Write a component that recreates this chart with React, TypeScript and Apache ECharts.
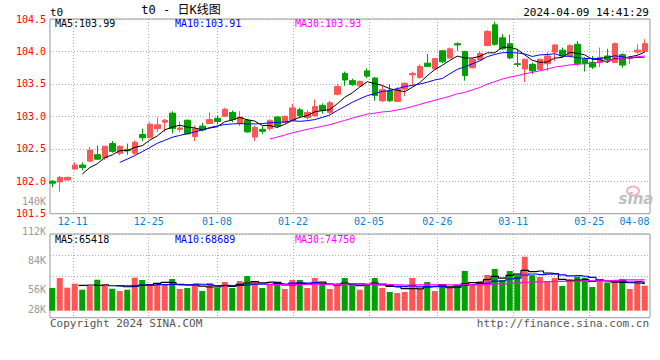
import React, { useEffect, useRef } from "react";
import * as echarts from "echarts";

// ---- data ----
const dates = [
  "2023-12-06","2023-12-07","2023-12-08","2023-12-11","2023-12-12","2023-12-13","2023-12-14","2023-12-15","2023-12-18","2023-12-19",
  "2023-12-20","2023-12-21","2023-12-22","2023-12-25","2023-12-26","2023-12-27","2023-12-28","2023-12-29","2024-01-02","2024-01-03",
  "2024-01-04","2024-01-05","2024-01-08","2024-01-09","2024-01-10","2024-01-11","2024-01-12","2024-01-15","2024-01-16","2024-01-17",
  "2024-01-18","2024-01-19","2024-01-22","2024-01-23","2024-01-24","2024-01-25","2024-01-26","2024-01-29","2024-01-30","2024-01-31",
  "2024-02-01","2024-02-02","2024-02-05","2024-02-06","2024-02-07","2024-02-08","2024-02-19","2024-02-20","2024-02-21","2024-02-22",
  "2024-02-23","2024-02-26","2024-02-27","2024-02-28","2024-02-29","2024-03-01","2024-03-04","2024-03-05","2024-03-06","2024-03-07",
  "2024-03-08","2024-03-11","2024-03-12","2024-03-13","2024-03-14","2024-03-15","2024-03-18","2024-03-19","2024-03-20","2024-03-21",
  "2024-03-22","2024-03-25","2024-03-26","2024-03-27","2024-03-28","2024-03-29","2024-04-01","2024-04-02","2024-04-03","2024-04-08",
];

const opens = [
  102.00,101.99,102.02,102.19,102.25,102.31,102.41,102.36,102.58,102.43,
  102.49,102.43,102.72,102.67,102.81,102.91,103.05,102.80,102.94,102.69,
  102.85,102.89,102.97,103.00,103.06,102.89,102.94,102.68,102.80,102.81,
  102.99,102.91,102.94,103.10,102.98,103.01,103.17,103.06,103.34,103.66,
  103.55,103.47,103.70,103.59,103.24,103.40,103.23,103.42,103.64,103.60,
  103.82,103.73,104.01,103.90,104.12,104.00,103.75,103.87,104.09,104.41,
  104.21,104.12,103.81,103.73,103.80,103.72,103.81,103.99,104.02,103.93,
  104.11,103.88,103.83,103.83,103.93,103.83,103.95,103.89,103.99,104.00,
];
const closes = [
  101.97,102.06,102.06,102.25,102.21,102.48,102.34,102.54,102.46,102.54,
  102.47,102.60,102.67,102.88,102.87,102.94,102.81,102.82,102.73,102.81,
  102.79,102.95,102.92,103.11,102.95,102.99,102.76,102.83,102.77,102.94,
  102.85,103.00,103.13,103.01,103.06,103.15,103.09,103.21,103.46,103.56,
  103.49,103.54,103.62,103.32,103.41,103.24,103.42,103.51,103.66,103.77,
  103.77,103.89,103.84,104.04,104.10,103.63,103.88,103.97,104.31,104.11,
  104.04,103.90,103.80,103.88,103.70,103.88,103.93,104.10,103.93,104.09,
  103.81,103.81,103.76,103.91,103.87,104.12,103.79,103.90,104.02,104.12,
];
const lows = [
  101.91,101.84,102.01,102.18,102.17,102.30,102.33,102.33,102.44,102.40,
  102.41,102.40,102.62,102.66,102.76,102.76,102.74,102.76,102.72,102.62,
  102.77,102.88,102.88,102.99,102.91,102.85,102.75,102.62,102.73,102.78,
  102.83,102.90,102.92,102.97,102.95,102.99,103.04,103.03,103.32,103.47,
  103.47,103.46,103.59,103.24,103.22,103.22,103.22,103.31,103.48,103.58,
  103.76,103.73,103.82,103.89,104.01,103.55,103.74,103.86,104.08,104.09,
  104.02,103.88,103.76,103.53,103.65,103.71,103.70,103.85,103.91,103.91,
  103.78,103.69,103.73,103.76,103.83,103.83,103.75,103.81,103.96,103.99,
];
const highs = [
  102.02,102.08,102.07,102.29,102.29,102.53,102.55,102.54,102.62,102.55,
  102.58,102.63,102.81,102.91,102.98,102.96,103.08,102.92,102.95,102.86,
  102.90,103.06,103.01,103.13,103.09,103.08,102.96,102.86,102.85,102.95,
  103.00,103.01,103.19,103.13,103.10,103.26,103.20,103.24,103.50,103.69,
  103.58,103.55,103.74,103.61,103.47,103.50,103.45,103.52,103.69,103.80,
  103.96,103.89,104.02,104.06,104.14,104.01,103.90,104.00,104.33,104.46,
  104.27,104.26,104.04,103.89,103.83,103.89,103.99,104.11,104.06,104.11,
  104.16,103.91,103.93,104.06,104.04,104.14,103.97,103.93,104.11,104.19,
];
const volumes = [
  54900,79100,55700,65300,50800,59800,75000,62900,53200,47700,
  50800,79900,74300,62200,64600,62200,76700,52500,54900,64600,
  47700,67000,54900,69500,54900,71900,84000,71900,54900,62200,
  69500,52500,74300,74300,54900,79100,62200,52500,59800,79100,
  61500,50800,64600,79100,54900,45300,42800,45300,79100,52500,
  69500,47700,64600,54900,62200,96310,62200,69500,86400,100900,
  74300,96000,86000,130700,86000,81600,71900,79100,59800,76000,
  82300,79900,57400,71900,68300,68700,76700,52500,68700,60490,
];

const gridDates = ["12-11","12-25","01-08","01-22","02-05","02-26","03-11","03-25"];
const labelDates = [...gridDates, "04-08"];
const priceTicks = [101.5, 102.0, 102.5, 103.0, 103.5, 104.0, 104.5];
const volTickLabels = ["28K", "56K", "84K", "112K", "140K"];
const volTickValues = [28000, 56000, 84000, 112000, 140000];
const maPeriods = [5, 10, 30];
const maColors = ["#000000", "#0000ff", "#ff00ff"];
const titleText = "t0 - 日K线图";
const codeText = "t0";
const timeText = "2024-04-09 14:41:29";
const copyrightText = "Copyright 2024 SINA.COM";
const urlText = "http://finance.sina.com.cn";

// ---- helpers ----
const RED = "#ff5555";
const GREEN = "#00a000";
const FONT = "'DejaVu Sans Mono', 'Liberation Mono', monospace";
const FONT_CJK = "'DejaVu Sans Mono', 'Noto Sans CJK SC', monospace";

function movingAverage(vals: number[], n: number): (number | string)[] {
  return vals.map((_, i) => {
    if (i < n - 1) return "-";
    let s = 0;
    for (let j = i - n + 1; j <= i; j++) s += vals[j];
    return s / n;
  });
}

const mmdd = dates.map((d) => d.slice(5));
const gridIdx = new Set(gridDates.map((d) => mmdd.indexOf(d)));
const labelIdx = new Set(labelDates.map((d) => mmdd.indexOf(d)));
const lastIdx = dates.length - 1;

const priceMA = maPeriods.map((n) => movingAverage(closes, n));
const volMA = maPeriods.map((n) => movingAverage(volumes, n));

const txt = (
  x: number, y: number, text: string, fill: string,
  align = "left", size = 10, family = FONT, extra: any = {}
) => ({
  type: "text", x, y, silent: true, z: 100,
  style: {
    text, fill, fontFamily: family, fontSize: size,
    textAlign: align, align, textVerticalAlign: "middle", verticalAlign: "middle",
    ...extra,
  },
});

export default function App() {
  const ref = useRef<HTMLDivElement>(null);

  useEffect(() => {
    document.body.style.margin = "0";
    if (!ref.current) return;
    const chart = echarts.init(ref.current, null, { renderer: "svg" });

    const dotted = { color: "#aaaaaa", type: [1, 2] as any, width: 1 };
    const MAIN_TOP = 19, MAIN_H = 194.7;
    const VOL_TOP = 234, VOL_H = 83.7;
    // volume scale: zero sits 7px above the frame bottom, ~2420 per px
    const VOL_MIN = -16940, VOL_MAX = 185614;

    const lastPriceMA = priceMA.map((a) => (a[lastIdx] as number).toFixed(2));
    const lastVolMA = volMA.map((a) => Math.round(a[lastIdx] as number).toString());

    const option: any = {
      animation: false,
      backgroundColor: "#ffffff",
      grid: [
        { left: 50, top: MAIN_TOP, width: 600, height: MAIN_H, show: true, borderColor: "#999999", borderWidth: 1 },
        { left: 48.5, top: MAIN_TOP, width: 600, height: MAIN_H },
        { left: 50, top: VOL_TOP, width: 600, height: VOL_H, show: true, borderColor: "#999999", borderWidth: 1 },
        { left: 48.5, top: VOL_TOP, width: 600, height: VOL_H },
        { left: 50, top: 201.7, width: 600, height: 117.6 },
      ],
      xAxis: [
        {
          type: "category", gridIndex: 0, data: mmdd, boundaryGap: false,
          axisLine: { show: false }, axisTick: { show: false },
          splitLine: { show: true, interval: (i: number) => gridIdx.has(i), lineStyle: dotted },
          axisLabel: {
            interval: (i: number) => labelIdx.has(i),
            color: "#0a7fd0", fontFamily: FONT, fontSize: 10, margin: 3,
            formatter: (v: string, i: number) => (i === lastIdx ? `{r|${v}}` : v),
            rich: { r: { padding: [0, 31, 0, 0], color: "#0a7fd0", fontFamily: FONT, fontSize: 10 } },
          },
        },
        { type: "category", gridIndex: 1, data: dates, boundaryGap: true, show: false, splitLine: { show: false } },
        {
          type: "category", gridIndex: 2, data: mmdd, boundaryGap: false,
          axisLine: { show: false }, axisTick: { show: false }, axisLabel: { show: false },
          splitLine: { show: true, interval: (i: number) => gridIdx.has(i), lineStyle: dotted },
        },
        { type: "category", gridIndex: 3, data: dates, boundaryGap: true, show: false, splitLine: { show: false } },
        { type: "value", gridIndex: 4, min: 0, max: 1, show: false, splitLine: { show: false } },
      ],
      yAxis: [
        {
          type: "value", gridIndex: 0, min: priceTicks[0], max: priceTicks[priceTicks.length - 1], interval: 0.5,
          axisLine: { show: false }, axisTick: { show: false },
          splitLine: { show: true, lineStyle: dotted },
          axisLabel: { color: "#ff0000", fontFamily: FONT, fontSize: 10, margin: 4, formatter: (v: number) => v.toFixed(1) },
        },
        { type: "value", gridIndex: 1, min: priceTicks[0], max: priceTicks[priceTicks.length - 1], show: false, splitLine: { show: false } },
        {
          type: "value", gridIndex: 2, min: 0, max: 4, interval: 1,
          axisLine: { show: false }, axisTick: { show: false }, axisLabel: { show: false },
          splitLine: { show: true, lineStyle: dotted },
        },
        { type: "value", gridIndex: 3, min: VOL_MIN, max: VOL_MAX, show: false, splitLine: { show: false } },
        {
          type: "value", gridIndex: 4, min: volTickValues[0], max: volTickValues[volTickValues.length - 1], interval: 28000,
          axisLine: { show: false }, axisTick: { show: false }, splitLine: { show: false },
          axisLabel: {
            color: "#999999", fontFamily: FONT, fontSize: 10, margin: 4,
            formatter: (v: number) => {
              const k = volTickValues.indexOf(v);
              const s = k >= 0 ? volTickLabels[k] : "";
              return k === 0 ? `{lo|${s}}` : s;
            },
            rich: { lo: { padding: [0, 0, 19, 0], color: "#999999", fontFamily: FONT, fontSize: 10 } },
          },
        },
      ],
      series: [
        {
          type: "candlestick", xAxisIndex: 1, yAxisIndex: 1, barWidth: 6,
          data: opens.map((o, i) => [o, closes[i], lows[i], highs[i]]),
          itemStyle: { color: RED, color0: GREEN, borderColor: RED, borderColor0: GREEN, borderWidth: 1 },
        },
        ...maPeriods.map((n, k) => ({
          type: "line", name: `MA${n}`, xAxisIndex: 1, yAxisIndex: 1, data: priceMA[k],
          showSymbol: false, symbol: "none", lineStyle: { color: maColors[k], width: 1 }, z: 5,
        })),
        {
          type: "bar", xAxisIndex: 3, yAxisIndex: 3, barWidth: 6,
          data: volumes.map((v, i) => ({ value: v, itemStyle: { color: closes[i] >= opens[i] ? RED : GREEN } })),
        },
        ...maPeriods.map((n, k) => ({
          type: "line", name: `VMA${n}`, xAxisIndex: 3, yAxisIndex: 3, data: volMA[k], step: "middle",
          showSymbol: false, symbol: "none", lineStyle: { color: maColors[k], width: 1.2 }, z: 5,
        })),
      ],
      graphic: [
        txt(50, 12, codeText, "#000000", "left", 11),
        txt(181, 10, titleText, "#000000", "center", 12, FONT_CJK),
        txt(649, 12, timeText, "#000000", "right", 11),
        txt(55, 23.5, `MA${maPeriods[0]}:${lastPriceMA[0]}`, maColors[0]),
        txt(175, 23.5, `MA${maPeriods[1]}:${lastPriceMA[1]}`, maColors[1]),
        txt(295, 23.5, `MA${maPeriods[2]}:${lastPriceMA[2]}`, maColors[2]),
        txt(55, 239, `MA${maPeriods[0]}:${lastVolMA[0]}`, maColors[0]),
        txt(175, 239, `MA${maPeriods[1]}:${lastVolMA[1]}`, maColors[1]),
        txt(295, 239, `MA${maPeriods[2]}:${lastVolMA[2]}`, maColors[2]),
        txt(50, 323.5, copyrightText, "#555555", "left", 11),
        txt(649, 323.5, urlText, "#555555", "right", 11),
        {
          type: "ellipse", silent: true, z: 1,
          shape: { cx: 633, cy: 191, rx: 6, ry: 4.5 },
          style: { fill: "none", stroke: "#f3b0b0", lineWidth: 2 },
        },
        txt(636, 199, "sina", "#c0c0c0", "center", 15, "'DejaVu Sans', sans-serif", { fontStyle: "italic", fontWeight: "bold" }),
      ],
    };

    chart.setOption(option);
    return () => chart.dispose();
  }, []);

  return <div ref={ref} style={{ width: 660, height: 360 }} />;
}
